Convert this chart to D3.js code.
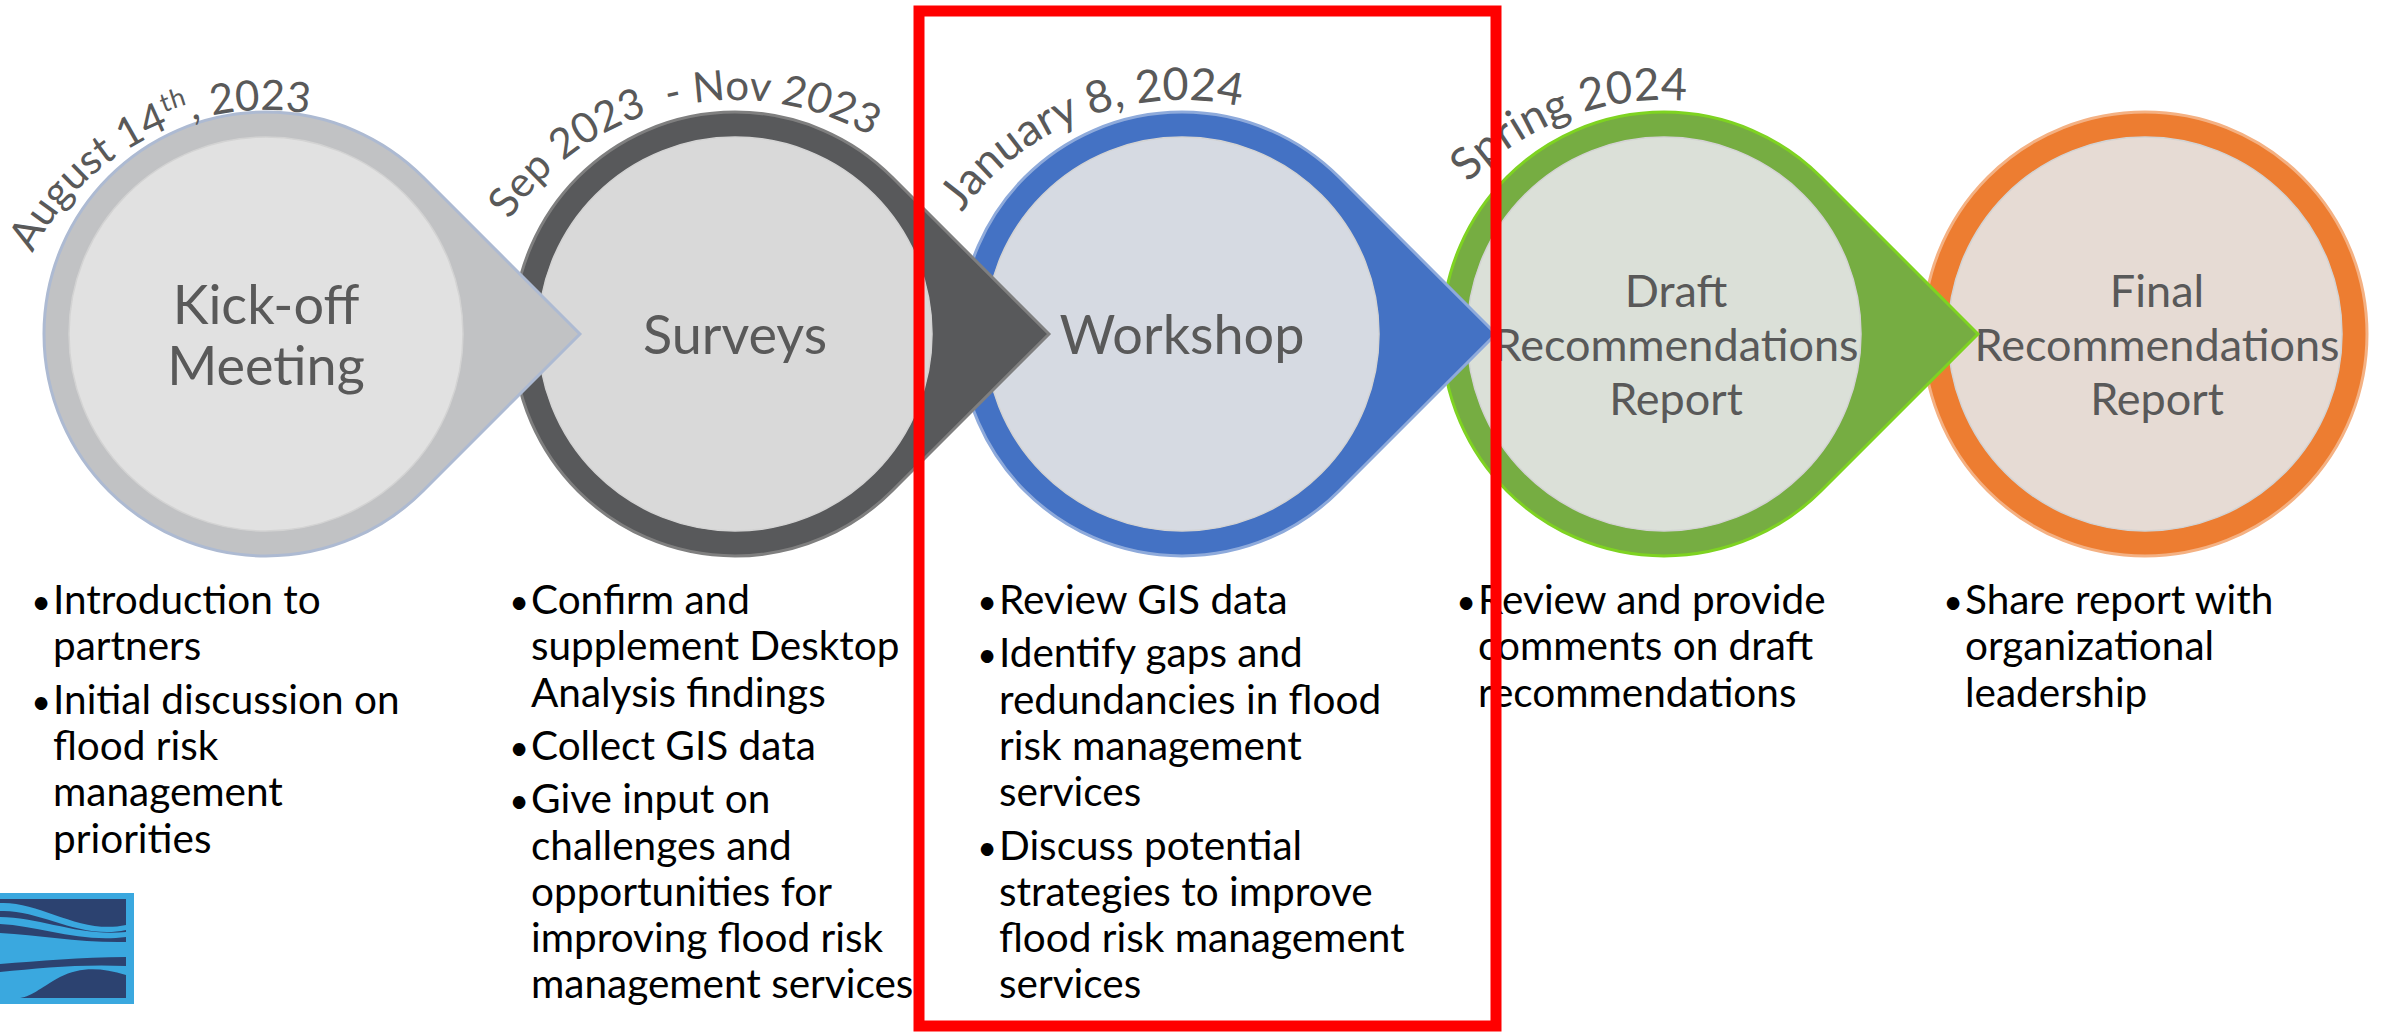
<!DOCTYPE html>
<html lang="en">
<head>
<meta charset="utf-8">
<title>Project Timeline</title>
<script src="https://cdn.jsdelivr.net/npm/d3@7"></script>
<style>
  body { margin: 0; background: white; }
  svg { display: block; background: white; }
  text { font-family: Lato, "Open Sans", sans-serif; white-space: pre; }
</style>
</head>
<body>
<script>

// stages of the timeline
var stages = ["Kick-off Meeting", "Surveys", "Workshop", "Draft Recommendations Report", "Final Recommendations Report"];

var stageLines = [
  ["Kick-off", "Meeting"],
  ["Surveys"],
  ["Workshop"],
  ["Draft", "Recommendations", "Report"],
  ["Final", "Recommendations", "Report"]
];

// date parts, odd entries are superscripts
var dates = [
  ["August 14", "th", ", 2023"],
  ["Sep 2023  - Nov 2023"],
  ["January 8, 2024"],
  ["Spring 2024"],
  []
];

var bullets = [
  [["Introduction to", "partners"],
   ["Initial discussion on", "flood risk", "management", "priorities"]],
  [["Confirm and", "supplement Desktop", "Analysis findings"],
   ["Collect GIS data"],
   ["Give input on", "challenges and", "opportunities for", "improving flood risk", "management services"]],
  [["Review GIS data"],
   ["Identify gaps and", "redundancies in flood", "risk management", "services"],
   ["Discuss potential", "strategies to improve", "flood risk management", "services"]],
  [["Review and provide", "comments on draft", "recommendations"]],
  [["Share report with", "organizational", "leadership"]]
];

var highlighted = "Workshop";

// styling and layout
var ringColor  = ["#c1c2c4", "#58595b", "#4472c4", "#76ad42", "#ed7d31"];
var edgeColor  = ["#adbad2", "#7f7f7f", "#8eaadb", "#7ed321", "#f4b183"];
var innerColor = ["#e1e1e1", "#d9d9d9", "#d6dae2", "#dbe0d8", "#e6dbd4"];
var dateStart  = [-63, -56, -54, -46];   // degrees from top
var dateSize   = [42, 42, 45, 45];
var dateRadius = [262, 272, 272, 272];

var W = 2382, H = 1032;
var cy = 334, rOut = 222, rIn = 197;

var svg = d3.select("body").append("svg")
  .attr("width", W)
  .attr("height", H);

var x = d3.scaleOrdinal().domain(stages).range([266, 735, 1182, 1664, 2145]);
var col = d3.scaleOrdinal().domain(stages).range([53, 531, 999, 1478, 1965]);

function teardrop(cx, r) {
  var p = d3.path(), s = r / Math.SQRT2;
  p.moveTo(cx + r * Math.SQRT2, cy);
  p.lineTo(cx + s, cy - s);
  p.arc(cx, cy, r, -Math.PI / 4, Math.PI / 4, true);
  p.closePath();
  return p.toString();
}

// draw back to front so each arrow sits on the next circle
var order = d3.range(stages.length).reverse();

order.forEach(function(i) {
  var s = stages[i], cx = x(s);
  var g = svg.append("g");

  if (i < stages.length - 1) {
    g.append("path")
      .attr("d", teardrop(cx, rOut))
      .attr("fill", ringColor[i])
      .attr("stroke", edgeColor[i])
      .attr("stroke-width", 3);
  } else {
    g.append("circle")
      .attr("cx", cx).attr("cy", cy).attr("r", rOut)
      .attr("fill", ringColor[i])
      .attr("stroke", edgeColor[i])
      .attr("stroke-width", 3);
  }

  g.append("circle")
    .attr("cx", cx).attr("cy", cy).attr("r", rIn)
    .attr("fill", innerColor[i])
    .attr("stroke", "#d3d3d3")
    .attr("stroke-width", 1.5);

  var lines = stageLines[i];
  var big = lines.length < 3;
  var lh = big ? 61 : 54;
  g.append("text")
    .attr("text-anchor", "middle")
    .attr("fill", "#595959")
    .attr("font-size", big ? 54 : 45)
    .selectAll("tspan")
    .data(lines)
    .enter().append("tspan")
    .attr("x", cx + (big ? 0 : 12))
    .attr("y", function(d, j) { return cy + (big ? 20 : 27) + (j - (lines.length - 1) / 2) * lh; })
    .text(function(d) { return d; });
});

// dates along arcs above the circles
var dyArc = 38;
dates.forEach(function(parts, i) {
  if (!parts.length) return;
  var cx = x(stages[i]), ca = cy + dyArc, R = dateRadius[i];
  var a0 = dateStart[i] * Math.PI / 180, a1 = a0 + 110 * Math.PI / 180;
  var id = "arc" + i;
  svg.append("path")
    .attr("id", id)
    .attr("fill", "none")
    .attr("d", "M" + (cx + R * Math.sin(a0)) + "," + (ca - R * Math.cos(a0)) +
               "A" + R + "," + R + " 0 0 1 " + (cx + R * Math.sin(a1)) + "," + (ca - R * Math.cos(a1)));

  var tp = svg.append("text")
    .attr("fill", "#595959")
    .attr("font-size", dateSize[i])
    .append("textPath")
    .attr("href", "#" + id);

  parts.forEach(function(t, k) {
    var sp = tp.append("tspan").text(t);
    if (k % 2 === 1) sp.attr("font-size", 26).attr("dy", -17);
    else if (k > 0) sp.attr("dy", 17);
  });
});

// bullet lists
var lineH = 46.3, gap = 7;
bullets.forEach(function(list, i) {
  var tx = col(stages[i]);
  var y = 614;
  var g = svg.append("g").attr("font-size", 40.5).attr("fill", "#000");
  list.forEach(function(item) {
    g.append("text")
      .attr("x", tx - 2).attr("y", y)
      .attr("text-anchor", "end")
      .attr("font-size", 34)
      .text("\u2022");
    item.forEach(function(line, j) {
      g.append("text")
        .attr("x", tx).attr("y", y + j * lineH)
        .text(line);
    });
    y += item.length * lineH + gap;
  });
});

// logo in the lower left corner
var logo = svg.append("g").attr("transform", "translate(0,893)");
logo.append("rect").attr("width", 134).attr("height", 111).attr("fill", "#3aa8df");
logo.append("rect").attr("y", 6).attr("width", 126).attr("height", 99).attr("fill", "#2c4270");
var waves = [
  "M0,10 C40,8 80,42 126,32 L126,37 C80,47 40,16 0,18 Z",
  "M0,24 C40,24 80,44 126,39 L126,44 C80,50 40,33 0,31 Z",
  "M0,40 C40,42 80,50 126,49 L126,64 C80,64 40,68 0,71 Z",
  "M0,79 C40,75 80,71 126,73 L126,82 C100,74 80,74 60,84 C40,95 30,105 18,105 L0,105 Z"
];
logo.selectAll("path.wave")
  .data(waves)
  .enter().append("path")
  .attr("class", "wave")
  .attr("d", function(d) { return d; })
  .attr("fill", "#3aa8df");

// red highlight box around the current stage
var hx = x(highlighted);
svg.append("rect")
  .attr("x", hx - 263)
  .attr("y", 11)
  .attr("width", 577)
  .attr("height", 1015)
  .attr("fill", "none")
  .attr("stroke", "#ff0000")
  .attr("stroke-width", 11);

</script>
</body>
</html>
